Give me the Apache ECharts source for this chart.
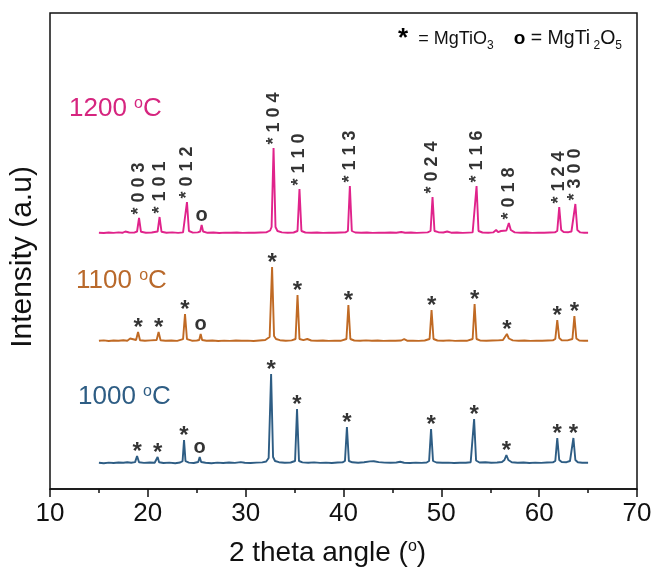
<!DOCTYPE html>
<html><head><meta charset="utf-8">
<script src="https://cdn.jsdelivr.net/npm/echarts@6/dist/echarts.min.js"></script>
<style>html,body{margin:0;padding:0;background:#fff}#c{width:652px;height:567px}</style>
</head><body><div id="c"></div>
<script>
// ---------- data (2θ in degrees, intensity in arbitrary units above each trace's own baseline) ----------
const xTicks = [10, 20, 30, 40, 50, 60, 70];
const sampleNames = ['1000', '1100', '1200'];
const offsets = [26, 148, 256];           // vertical stacking offset of each pattern (a.u.)

// peak positions / heights for the phase markers
const peaks1000 = [18.9, 21.0, 23.7, 25.3, 32.6, 35.25, 40.35, 48.95, 53.35, 56.65, 61.85, 63.5];
const heights1000 = [7, 6, 23, 6, 89, 54, 36, 34, 44, 8, 25, 25];
const peaks1100 = [19.0, 21.1, 23.8, 25.4, 32.7, 35.3, 40.5, 49.0, 53.4, 56.7, 61.85, 63.6];
const heights1100 = [9, 9, 27, 7, 74, 46, 36, 31, 37, 7, 21, 25];
const peaks1200 = [19.1, 21.2, 24.0, 25.5, 32.85, 35.5, 40.65, 49.1, 53.6, 56.9, 62.05, 63.7];
const heights1200 = [15, 16, 31, 8, 85, 44, 47, 36, 47, 10, 26, 29];
const phases = ['*', '*', '*', 'o', '*', '*', '*', '*', '*', '*', '*', '*'];
const hkl = ['0 0 3', '1 0 1', '0 1 2', '', '1 0 4', '1 1 0', '1 1 3', '0 2 4', '1 1 6', '0 1 8', '1 2 4', '3 0 0'];

const trace1000 = [
[15.0,0.3],[15.5,-0.2],[16.0,0.4],[16.5,0],[17.0,0.5],[17.5,0.2],[17.9,0.8],[18.3,0.3],[18.7,0.9],[18.9,7],[19.1,0.7],[19.6,0.1],[20.2,0.5],[20.7,0.2],[20.85,1],[21.0,6],[21.15,0.8],[21.6,0],[22.2,0.4],[22.8,-0.2],[23.3,0.5],[23.55,1.8],[23.7,23],[23.85,1.8],[24.2,0.4],[24.7,0],[25.15,1],[25.3,6],[25.45,1],[25.9,0.2],[26.5,-0.2],[27.1,0.4],[27.7,0],[28.3,0.5],[28.9,0.1],[29.5,0.9],[29.9,0.2],[30.5,0],[31.1,0.4],[31.7,0.6],[32.1,1.5],[32.35,5],[32.6,89],[32.8,6],[33.0,2],[33.4,0.8],[34.0,0.3],[34.6,0.5],[35.05,2],[35.25,54],[35.45,2],[35.8,0.6],[36.4,0.2],[37.0,0.6],[37.6,0.1],[38.2,0.4],[38.8,0],[39.4,0.5],[39.9,0.6],[40.15,2],[40.35,36],[40.55,2],[40.9,0.7],[41.5,0.3],[42.1,0.8],[42.7,1.6],[43.1,1.8],[43.6,0.9],[44.2,0.4],[44.8,0.3],[45.4,0.5],[45.8,1.2],[46.2,0.3],[46.8,0],[47.4,0.4],[48.0,0.1],[48.5,0.5],[48.75,2],[48.95,34],[49.15,2],[49.5,0.5],[50.1,0.2],[50.7,0.4],[51.3,0],[51.9,0.3],[52.5,0.2],[53.0,0.8],[53.15,2.5],[53.35,44],[53.55,2.5],[53.9,0.5],[54.5,0.8],[55.1,0.2],[55.7,0.5],[56.2,1],[56.45,3],[56.65,8],[56.85,3],[57.2,0.8],[57.8,0.3],[58.4,0.5],[59.0,0],[59.6,0.4],[60.2,0.1],[60.8,0.5],[61.4,0.6],[61.65,2],[61.85,25],[62.05,3],[62.3,1],[62.8,0.8],[63.15,2],[63.5,25],[63.7,3],[63.95,0.8],[64.4,0.3],[65.0,0.2]
];
const trace1100 = [
[15.0,0.2],[15.5,0.6],[16.0,0],[16.5,0.5],[17.0,0.2],[17.5,0.8],[17.9,0.3],[18.2,2.5],[18.4,0.5],[18.8,1],[19.0,9],[19.2,0.8],[19.7,0.2],[20.3,0.6],[20.9,1],[21.1,9],[21.3,0.8],[21.8,0.2],[22.4,0.5],[23.0,0.1],[23.6,1.8],[23.8,27],[24.0,1.8],[24.5,0.3],[25.0,0.5],[25.25,1],[25.4,7],[25.55,1],[26.0,0.2],[26.6,0.5],[27.2,0],[27.8,0.4],[28.4,0.1],[29.0,0.5],[29.6,0.2],[30.2,0.4],[30.8,0],[31.4,0.5],[32.0,1],[32.45,4],[32.7,74],[32.9,5],[33.1,2],[33.5,0.8],[34.1,0.3],[34.7,0.6],[35.1,2],[35.3,46],[35.5,2],[35.9,0.8],[36.3,2],[36.7,0.5],[37.3,0.2],[37.9,0.5],[38.5,0.1],[39.1,0.4],[39.7,0.2],[40.3,2],[40.5,36],[40.7,2],[41.1,0.5],[41.7,0.2],[42.3,0.6],[42.9,0.3],[43.5,0.5],[44.1,0.1],[44.7,0.4],[45.3,0.2],[45.9,0.5],[46.2,1.8],[46.5,0.3],[47.1,0.4],[47.7,0.1],[48.3,0.5],[48.8,2],[49.0,31],[49.2,2],[49.6,0.5],[50.2,0.3],[50.8,0.6],[51.4,0.1],[52.0,0.4],[52.6,0.2],[53.2,2],[53.4,37],[53.6,2],[54.0,0.4],[54.6,0.2],[55.2,0.5],[55.8,0.6],[56.3,1],[56.5,2.5],[56.7,7],[56.9,2.5],[57.3,0.6],[57.9,0.2],[58.5,0.5],[59.1,0.1],[59.7,0.4],[60.3,0.2],[60.9,0.5],[61.4,0.6],[61.65,2],[61.85,21],[62.05,3],[62.3,0.8],[62.9,0.6],[63.4,2],[63.6,25],[63.8,2.5],[64.1,0.5],[64.6,0.2],[65.0,0.3]
];
const trace1200 = [
[15.0,0.3],[15.5,0],[16.0,0.5],[16.5,0.1],[17.0,0.6],[17.4,0.2],[17.7,1.5],[17.9,3],[18.1,0.5],[18.6,0.4],[18.9,1.5],[19.1,15],[19.3,1.2],[19.8,0.3],[20.4,0.5],[21.0,1.5],[21.2,16],[21.4,1.2],[21.9,0.2],[22.5,0.6],[23.1,0.1],[23.6,0.6],[23.8,2],[24.0,31],[24.2,2],[24.6,0.4],[25.1,0.6],[25.35,1.5],[25.5,8],[25.65,1.5],[26.1,0.2],[26.7,0.5],[27.3,0],[27.9,0.4],[28.5,0.2],[29.1,0.5],[29.7,0.1],[30.3,0.4],[30.9,0.2],[31.5,0.5],[32.1,0.6],[32.5,2.5],[32.65,6],[32.85,85],[33.05,6],[33.25,2],[33.7,0.6],[34.3,0.3],[34.9,0.5],[35.3,2],[35.5,44],[35.7,2],[36.1,0.5],[36.7,0.2],[37.3,0.5],[37.9,0.1],[38.5,0.4],[39.1,0.2],[39.7,0.5],[40.2,0.6],[40.45,2],[40.65,47],[40.85,2],[41.2,0.5],[41.8,0.2],[42.4,0.5],[43.0,0.1],[43.6,0.4],[44.2,0.2],[44.8,0.5],[45.4,0.3],[45.9,1],[46.3,0.2],[46.9,0.5],[47.5,0.1],[48.1,0.4],[48.6,0.6],[48.9,2],[49.1,36],[49.3,2],[49.7,0.8],[50.2,0.5],[50.6,1.5],[51.0,0.3],[51.6,0.5],[52.2,0.1],[52.8,0.4],[53.2,0.6],[53.4,2],[53.6,47],[53.8,2],[54.2,0.5],[54.8,0.3],[55.3,0.6],[55.6,3],[55.8,0.8],[56.1,2],[56.3,0.6],[56.65,2.5],[56.9,10],[57.1,3],[57.5,0.6],[58.1,0.2],[58.7,0.5],[59.3,0.1],[59.9,0.4],[60.5,0.2],[61.1,0.5],[61.6,0.6],[61.85,2],[62.05,26],[62.25,3],[62.5,1],[63.0,0.8],[63.3,1.5],[63.5,2.5],[63.7,29],[63.9,3],[64.2,0.6],[64.6,0.3],[65.0,0.2]
];

// ---------- styles ----------
const FONT = '"Liberation Sans", Arial, Helvetica, sans-serif';
const colors = ['#2e5d84', '#c06a24', '#e0238b'];
const labelColors = ['#2e5d84', '#b9692b', '#d6257f'];
const traces = [trace1000, trace1100, trace1200];
const peakX = [peaks1000, peaks1100, peaks1200];
const peakH = [heights1000, heights1100, heights1200];

const series = [];
traces.forEach((tr, s) => {
  series.push({
    type: 'line', name: sampleNames[s] + ' °C', silent: true, showSymbol: false, symbol: 'none',
    data: tr.map(p => [p[0], p[1] + offsets[s]]),
    lineStyle: { color: colors[s], width: 1.9 }, z: 2
  });
});

const markerStyle = { color: 'rgba(0,0,0,0)', borderWidth: 0 };
const starLabel = { show: true, formatter: '*', position: 'top', distance: -9, fontSize: 24, fontWeight: 'bold', color: '#000', fontFamily: FONT };
const oLabel = { show: true, formatter: 'o', position: 'top', distance: -1, fontSize: 20, fontWeight: 'bold', color: '#000', fontFamily: FONT };

// phase markers
[0, 1].forEach(s => {
  series.push({
    type: 'scatter', silent: true, symbol: 'circle', symbolSize: 1, itemStyle: markerStyle, z: 5,
    data: peakX[s].map((x, i) => ({
      value: [x, peakH[s][i] + offsets[s]], name: phases[i],
      label: phases[i] === '*' ? starLabel : oLabel
    }))
  });
});
// 1200 °C: rotated hkl labels
series.push({
  type: 'scatter', silent: true, symbol: 'circle', symbolSize: 1, itemStyle: markerStyle, z: 5,
  data: peakX[2].map((x, i) => ({
    value: [x, peakH[2][i] + offsets[2]], name: phases[i],
    label: phases[i] === '*'
      ? { show: true, formatter: '* ' + hkl[i], position: 'top', distance: 3, rotate: 90, align: 'left', verticalAlign: 'middle',
          fontSize: 18, fontWeight: 'bold', color: '#000', fontFamily: FONT }
      : oLabel
  }))
});

function sampleLabel(s, left, top) {
  return {
    type: 'text', left: left, top: top, silent: true, z: 10,
    style: {
      text: '{n|' + sampleNames[s] + ' }{p|o}{n|C}',
      rich: {
        n: { fontSize: 26, lineHeight: 26, verticalAlign: 'bottom', fill: labelColors[s], fontFamily: FONT },
        p: { fontSize: 16, lineHeight: 16, verticalAlign: 'top', fill: labelColors[s], fontFamily: FONT }
      }
    }
  };
}

const chart = echarts.init(document.getElementById('c'), null, { renderer: 'canvas' });
chart.setOption({
  animation: false,
  backgroundColor: '#fff',
  grid: { left: 50, right: 15, top: 13, bottom: 78, outerBoundsMode: 'none', containLabel: false,
          show: true, borderColor: '#111', borderWidth: 1.5, backgroundColor: 'transparent' },
  xAxis: {
    type: 'value', min: xTicks[0], max: xTicks[xTicks.length - 1], interval: 10,
    axisLine: { show: true, lineStyle: { color: '#111', width: 1.5 } },
    axisTick: { show: true, inside: false, length: 8, lineStyle: { color: '#111', width: 1.5 } },
    minorTick: { show: true, splitNumber: 2, length: 4, lineStyle: { color: '#111', width: 1.5 } },
    splitLine: { show: false },
    axisLabel: { fontSize: 26, color: '#111', margin: 12, fontFamily: FONT },
    name: '{n|2 theta angle (}{p|o}{n|)}', nameLocation: 'middle', nameGap: 50,
    nameTextStyle: {
      padding: [0, 32, 0, 0],
      rich: {
        n: { fontSize: 28, lineHeight: 28, verticalAlign: 'bottom', color: '#111', fontFamily: FONT },
        p: { fontSize: 16, lineHeight: 16, verticalAlign: 'top', color: '#111', fontFamily: FONT }
      }
    }
  },
  yAxis: {
    type: 'value', min: 0, max: 476,
    axisLine: { show: false }, axisTick: { show: false }, axisLabel: { show: false }, splitLine: { show: false },
    name: 'Intensity (a.u)', nameLocation: 'middle', nameRotate: 90, nameGap: 12,
    nameTextStyle: { fontSize: 30, color: '#111', fontFamily: FONT, padding: [0, 12, 0, 0] }
  },
  graphic: [
    sampleLabel(2, 69, 96),
    sampleLabel(1, 76, 268),
    sampleLabel(0, 78, 384),
    {
      type: 'text', right: 30, top: 26, silent: true, z: 10,
      style: {
        text: '{s|*}{t|  = MgTiO}{b|3}{t|    }{o|o}{u| = MgTi}{b| 2}{u|O}{b|5}',
        rich: {
          s: { fontSize: 26, fontWeight: 'bold', lineHeight: 26, verticalAlign: 'top', padding: [0, 0, 8, 0], fill: '#000', fontFamily: FONT },
          t: { fontSize: 18, lineHeight: 18, verticalAlign: 'bottom', padding: [0, 0, 4, 0], fill: '#111', fontFamily: FONT },
          u: { fontSize: 19.5, lineHeight: 19, verticalAlign: 'bottom', padding: [0, 0, 3, 0], fill: '#111', fontFamily: FONT },
          o: { fontSize: 19, fontWeight: 'bold', lineHeight: 18, verticalAlign: 'bottom', padding: [0, 0, 4, 0], fill: '#000', fontFamily: FONT },
          b: { fontSize: 12, lineHeight: 12, verticalAlign: 'bottom', fill: '#111', fontFamily: FONT }
        }
      }
    }
  ],
  series: series
});
</script>
</body></html>
